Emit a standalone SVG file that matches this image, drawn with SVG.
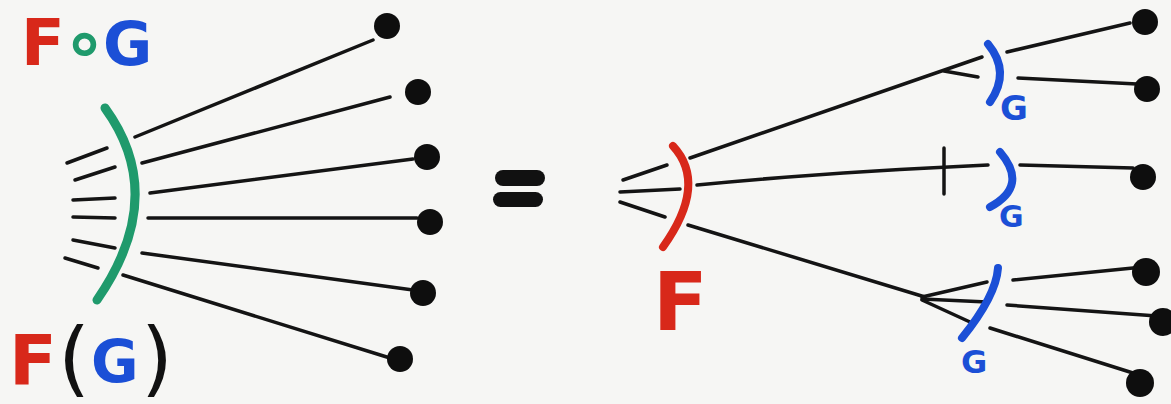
<svg xmlns="http://www.w3.org/2000/svg" width="1171" height="404" viewBox="0 0 1171 404">
<style>
.bg{fill:#f6f6f4}
.ln{stroke:#141414;stroke-width:3.5;fill:none;stroke-linecap:round;stroke-linejoin:round}
.dot{fill:#0e0e0e}
.arcG{stroke:#1f9a6c;stroke-width:9;fill:none;stroke-linecap:round}
.arcR{stroke:#d8281a;stroke-width:8;fill:none;stroke-linecap:round}
.arcB{stroke:#1b4fd6;stroke-width:8;fill:none;stroke-linecap:round}
.t{font-family:"DejaVu Sans","Liberation Sans",sans-serif;font-weight:bold}
.red{fill:#d8281a}.blue{fill:#1b4fd6}.green{fill:#1f9a6c}.blk{fill:#111}
</style>
<rect class="bg" x="0" y="0" width="1171" height="404"/>

<g id="connectors">
  <!-- left: incoming short lines -->
  <path class="ln" d="M67,163 L107,148"/>
  <path class="ln" d="M75,180 L115,167"/>
  <path class="ln" d="M73,200 L115,198"/>
  <path class="ln" d="M73,217 L115,218"/>
  <path class="ln" d="M73,240 L115,248"/>
  <path class="ln" d="M65,258 L98,268"/>
  <!-- left: outgoing lines -->
  <path class="ln" d="M135,137 L373,40"/>
  <path class="ln" d="M142,163 L390,97"/>
  <path class="ln" d="M150,193 L413,159"/>
  <path class="ln" d="M148,218 L417,218"/>
  <path class="ln" d="M142,253 L413,290"/>
  <path class="ln" d="M123,275 L390,358"/>
  <!-- right: incoming to F -->
  <path class="ln" d="M623,180 L667,165"/>
  <path class="ln" d="M620,192 L680,189"/>
  <path class="ln" d="M620,202 L665,217"/>
  <!-- right: F outputs -->
  <path class="ln" d="M690,158 L982,57"/>
  <path class="ln" d="M944,71 L978,77"/>
  <path class="ln" d="M697,185 Q830,172 988,165"/>
  <path class="ln" d="M944,148 L944,194"/>
  <path class="ln" d="M688,225 L925,297"/>
  <path class="ln" d="M922,297 L987,282"/>
  <path class="ln" d="M922,299 L987,302"/>
  <path class="ln" d="M922,300 L970,322"/>
  <!-- right: G outputs -->
  <path class="ln" d="M1007,52 L1130,23"/>
  <path class="ln" d="M1018,78 L1137,84"/>
  <path class="ln" d="M1020,165 L1133,168"/>
  <path class="ln" d="M1013,280 L1133,268"/>
  <path class="ln" d="M1007,305 L1157,316"/>
  <path class="ln" d="M990,328 L1133,373"/>
</g>

<g id="left-composite">
  <path class="arcG" d="M105,108 Q169,196 97,300"/>
</g>
<g id="left-outputs">
  <circle class="dot" cx="387" cy="26" r="13"/>
  <circle class="dot" cx="418" cy="92" r="13"/>
  <circle class="dot" cx="427" cy="157" r="13"/>
  <circle class="dot" cx="430" cy="222" r="13"/>
  <circle class="dot" cx="423" cy="293" r="13"/>
  <circle class="dot" cx="400" cy="359" r="13"/>
</g>
<g id="label-FoG">
  <text class="t" font-size="64" y="65"><tspan class="red" x="21">F</tspan><tspan class="green" x="62" y="67" font-size="72">∘</tspan><tspan class="blue" x="103" y="65" font-size="60">G</tspan></text>
</g>
<g id="label-FofG">
  <text class="t" font-size="70" y="385"><tspan class="red" x="9">F</tspan><tspan class="blk" x="58" y="386" font-size="82" font-weight="normal">(</tspan><tspan class="blue" x="91" y="382" font-size="58">G</tspan><tspan class="blk" x="141" y="386" font-size="82" font-weight="normal">)</tspan></text>
</g>

<g id="equals">
  <rect class="blk" x="495" y="170" width="50" height="16" rx="8"/>
  <rect class="blk" x="493" y="192" width="50" height="15" rx="7.5"/>
</g>

<g id="F">
  <path class="arcR" d="M673,146 Q708,184 663,247"/>
  <text class="t red" font-size="80" x="653" y="330">F</text>
</g>
<g id="G1">
  <path class="arcB" d="M988,44 Q1011,72 990,102"/>
  <text class="t blue" font-size="34" x="1000" y="120">G</text>
</g>
<g id="G2">
  <path class="arcB" d="M1000,152 Q1029,186 990,207"/>
  <text class="t blue" font-size="30" x="999" y="227">G</text>
</g>
<g id="G3">
  <path class="arcB" d="M998,268 Q996,296 962,338"/>
  <text class="t blue" font-size="32" x="961" y="373">G</text>
</g>
<g id="right-outputs">
  <circle class="dot" cx="1145" cy="22" r="13"/>
  <circle class="dot" cx="1147" cy="89" r="13"/>
  <circle class="dot" cx="1143" cy="177" r="13"/>
  <circle class="dot" cx="1146" cy="272" r="14"/>
  <circle class="dot" cx="1163" cy="322" r="14"/>
  <circle class="dot" cx="1140" cy="383" r="14"/>
</g>
</svg>
